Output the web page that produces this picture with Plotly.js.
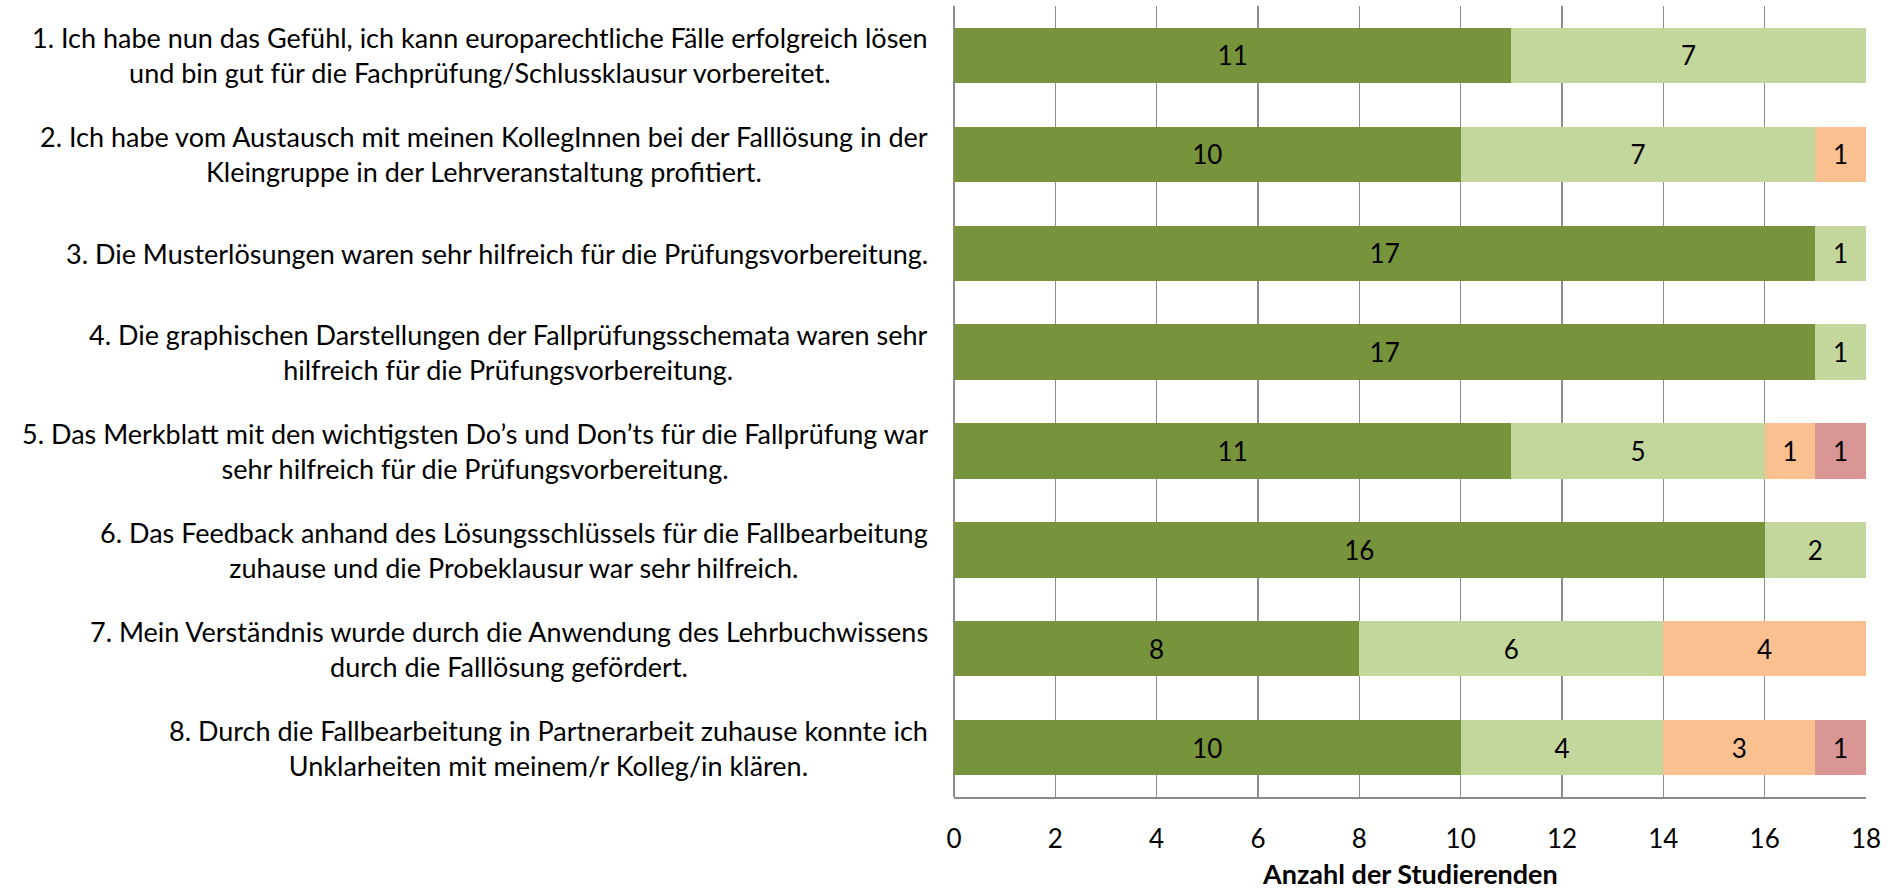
<!DOCTYPE html>
<html>
<head>
<meta charset="utf-8">
<script src="https://cdn.plot.ly/plotly-3.0.1.min.js"></script>
<style>html,body{margin:0;padding:0;background:#fff;}#chart{width:1899px;height:891px;}</style>
</head>
<body>
<div id="chart"></div>
<script>
const categories = [
  "1. Ich habe nun das Gefühl, ich kann europarechtliche Fälle erfolgreich lösen<br>und bin gut für die Fachprüfung/Schlussklausur vorbereitet.",
  "2. Ich habe vom Austausch mit meinen KollegInnen bei der Falllösung in der<br>Kleingruppe in der Lehrveranstaltung profitiert.",
  "3. Die Musterlösungen waren sehr hilfreich für die Prüfungsvorbereitung.",
  "4. Die graphischen Darstellungen der Fallprüfungsschemata waren sehr<br>hilfreich für die Prüfungsvorbereitung.",
  "5. Das Merkblatt mit den wichtigsten Do’s und Don’ts für die Fallprüfung war<br>sehr hilfreich für die Prüfungsvorbereitung.",
  "6. Das Feedback anhand des Lösungsschlüssels für die Fallbearbeitung<br>zuhause und die Probeklausur war sehr hilfreich.",
  "7. Mein Verständnis wurde durch die Anwendung des Lehrbuchwissens<br>durch die Falllösung gefördert.",
  "8. Durch die Fallbearbeitung in Partnerarbeit zuhause konnte ich<br>Unklarheiten mit meinem/r Kolleg/in klären."
];
const ids = ["Q1","Q2","Q3","Q4","Q5","Q6","Q7","Q8"];
const seriesNames = ["trifft völlig zu", "trifft eher zu", "trifft eher nicht zu", "trifft gar nicht zu"];
const s1 = [11, 10, 17, 17, 11, 16, 8, 10];
const s2 = [7, 7, 1, 1, 5, 2, 6, 4];
const s3 = [0, 1, 0, 0, 1, 0, 4, 3];
const s4 = [0, 0, 0, 0, 1, 0, 0, 1];
const xTicks = [0, 2, 4, 6, 8, 10, 12, 14, 16, 18];
const xTitle = "Anzahl der Studierenden";
const colors = ["#77933C", "#C3D69B", "#FAC090", "#D99694"];

const FONT = "Lato, 'Open Sans', sans-serif";
const traces = [s1, s2, s3, s4].map((vals, i) => ({
  type: "bar",
  orientation: "h",
  name: seriesNames[i],
  y: ids,
  x: vals,
  text: vals.map(v => v ? String(v) : ""),
  textposition: "inside",
  insidetextanchor: "middle",
  constraintext: "none",
  textfont: {family: FONT, size: 26, color: "#000"},
  marker: {color: colors[i], line: {width: 0}},
  hoverinfo: "x+name",
  showlegend: false
}));

const annotations = categories.map((c, i) => ({
  xref: "paper", yref: "y", x: -0.026, y: ids[i],
  xanchor: "right", yanchor: "middle",
  text: c, showarrow: false, align: "center",
  font: {family: FONT, size: 27, color: "#000"}
}));
annotations.push({
  xref: "paper", yref: "paper", x: 0.5, y: -0.097,
  xanchor: "center", yanchor: "middle",
  text: "<b>" + xTitle + "</b>", showarrow: false,
  font: {family: FONT, size: 27, color: "#000"}
});

const layout = {
  width: 1899, height: 891,
  margin: {l: 954, r: 33, t: 6, b: 94},
  paper_bgcolor: "#fff", plot_bgcolor: "#fff",
  barmode: "stack",
  bargap: 0.44,
  font: {family: FONT, size: 26, color: "#000"},
  xaxis: {
    range: [0, 18], tickvals: xTicks, ticktext: xTicks.map(String),
    showgrid: true, gridcolor: "#8c8c8c", gridwidth: 1.5,
    zeroline: true, zerolinecolor: "#8c8c8c", zerolinewidth: 1.5,
    showline: true, linecolor: "#8c8c8c", linewidth: 1.5,
    ticks: "", ticklabelstandoff: 18,
    tickfont: {family: FONT, size: 26, color: "#000"}
  },
  yaxis: {
    type: "category", autorange: "reversed",
    showticklabels: false, showgrid: false, zeroline: false, showline: false, ticks: ""
  },
  annotations: annotations
};

Plotly.newPlot("chart", traces, layout, {displayModeBar: false, staticPlot: true});
</script>
</body>
</html>
